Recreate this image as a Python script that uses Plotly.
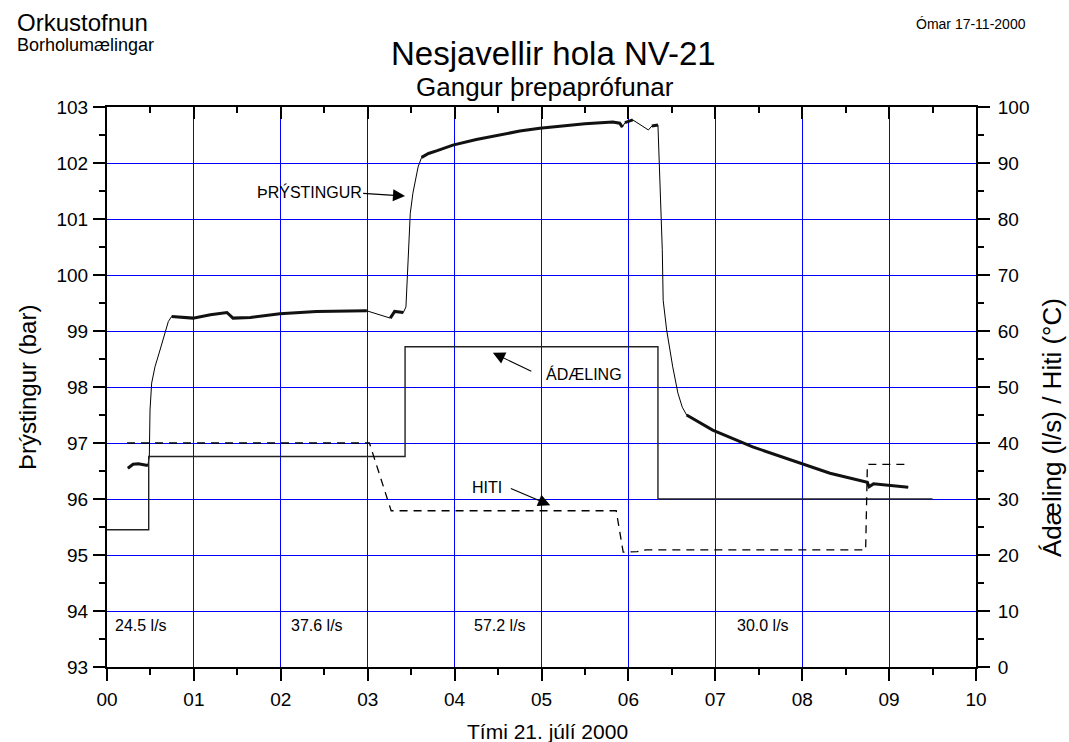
import plotly.graph_objects as go

# --- Measured data, Nesjavellir NV-21 step test, 21 July 2000 (hours after midnight) ---

# Wellhead pressure (bar), left axis
p_hours = [0.24, 0.30, 0.36, 0.42, 0.47,
           0.487, 0.495, 0.514, 0.552, 0.61, 0.667, 0.706, 0.744,
           0.99, 1.19, 1.38, 1.45, 1.65, 1.99, 2.41, 2.99,
           3.26, 3.31, 3.41,
           3.44, 3.49, 3.52, 3.58, 3.62, 3.70, 3.80, 3.98, 4.25, 4.50, 4.75, 4.98,
           5.25, 5.50, 5.82, 5.90, 5.93, 5.96, 6.05,
           6.23, 6.27, 6.34,
           6.37, 6.39, 6.40, 6.44, 6.51, 6.57, 6.62, 6.67,
           6.97, 7.43, 7.97, 8.32, 8.75, 8.77, 8.82, 9.22]
p_bar = [96.55, 96.62, 96.63, 96.62, 96.60,
         96.76, 97.59, 98.07, 98.36, 98.66, 98.96, 99.17, 99.26,
         99.23, 99.29, 99.33, 99.23, 99.24, 99.31, 99.35, 99.36,
         99.23, 99.35, 99.33,
         99.43, 101.10, 101.46, 101.93, 102.10, 102.17, 102.22, 102.32, 102.42, 102.50, 102.57, 102.62,
         102.66, 102.70, 102.73, 102.71, 102.64, 102.72, 102.77,
         102.59, 102.66, 102.68,
         101.34, 100.45, 99.55, 99.02, 98.36, 97.89, 97.64, 97.50,
         97.23, 96.93, 96.64, 96.46, 96.30, 96.22, 96.27, 96.21]

# Injection rate (l/s), right axis
flow_hours = [0.0, 0.48, 3.43, 6.34, 9.5]
flow_ls = [24.5, 37.6, 57.2, 30.0, 30.0]

# Injection temperature (°C), right axis
temp_hours = [0.23, 3.02, 3.27, 5.86, 5.94, 6.10, 6.20, 8.73, 8.75, 9.24]
temp_c = [40.0, 40.0, 27.9, 27.9, 20.5, 20.6, 20.9, 20.9, 36.2, 36.2]

# Rate labels along the bottom of the plot
rate_labels = ["24.5 l/s", "37.6 l/s", "57.2 l/s", "30.0 l/s"]
rate_label_hours = [0.07, 2.1, 4.2, 7.23]
rate_label_level = 93.75

x_tick_vals = list(range(11))
x_tick_text = ["00", "01", "02", "03", "04", "05", "06", "07", "08", "09", "10"]

# Stretches where the logger trace is noisy (drawn as a thicker band)
noisy_windows = [(0.24, 0.47), (0.744, 2.99), (3.26, 3.41), (3.62, 5.93),
                 (5.96, 6.05), (6.27, 6.34), (6.67, 9.22)]

FONT = "Liberation Sans, Arial, Helvetica, sans-serif"
W, H = 1069, 742
L, R, T, B = 107, 93, 107, 75
PW, PH = W - L - R, H - T - B


def px_x(px):
    return (px - L) / PW


def px_y(py):
    return (H - B - py) / PH


fig = go.Figure()

# pressure: thin line through all samples
fig.add_trace(go.Scatter(x=p_hours, y=p_bar, mode="lines",
                         line=dict(color="black", width=1), showlegend=False,
                         hoverinfo="skip"))
# noisy plateaus as a thicker band
for a, b in noisy_windows:
    xs = [h for h in p_hours if a <= h <= b]
    ys = [p for h, p in zip(p_hours, p_bar) if a <= h <= b]
    fig.add_trace(go.Scatter(x=xs, y=ys, mode="lines",
                             line=dict(color="#111111", width=3), showlegend=False,
                             hoverinfo="skip"))

# injection rate step line
fig.add_trace(go.Scatter(x=flow_hours, y=flow_ls, mode="lines", yaxis="y2",
                         line=dict(color="#222222", width=1.4, shape="hv"),
                         showlegend=False, hoverinfo="skip"))

# temperature dashed line
fig.add_trace(go.Scatter(x=temp_hours, y=temp_c, mode="lines", yaxis="y2",
                         line=dict(color="black", width=1.3, dash="8px,6px"),
                         showlegend=False, hoverinfo="skip"))

# empty trace so the top frame axis is drawn
fig.add_trace(go.Scatter(x=[None], y=[None], xaxis="x2", showlegend=False,
                         hoverinfo="skip"))

annotations = []
label_font = dict(family=FONT, size=16, color="black")

# rate labels
for txt, h in zip(rate_labels, rate_label_hours):
    annotations.append(dict(x=h, y=rate_label_level, xref="x", yref="y", text=txt,
                            showarrow=False, xanchor="left", yanchor="middle",
                            font=label_font))

arrow_style = dict(text="", showarrow=True, arrowhead=2, arrowsize=2.2,
                   arrowwidth=1.1, arrowcolor="black")

# curve labels with arrows
annotations += [
    dict(x=2.33, y=101.48, xref="x", yref="y", text="ÞRÝSTINGUR", showarrow=False,
         font=label_font),
    dict(x=3.43, y=101.41, ax=2.93, ay=101.46, xref="x", yref="y", axref="x", ayref="y",
         **arrow_style),
    dict(x=5.49, y=52.3, xref="x", yref="y2", text="ÁDÆLING", showarrow=False,
         font=label_font),
    dict(x=4.44, y=56.1, ax=4.90, ay=52.7, xref="x", yref="y2", axref="x", ayref="y2",
         **arrow_style),
    dict(x=4.37, y=32.1, xref="x", yref="y2", text="HITI", showarrow=False,
         font=label_font),
    dict(x=5.10, y=28.9, ax=4.63, ay=32.0, xref="x", yref="y2", axref="x", ayref="y2",
         **arrow_style),
]

# header texts and axis titles
annotations += [
    dict(x=px_x(15), y=px_y(22), xref="paper", yref="paper", text="Orkustofnun",
         showarrow=False, xanchor="left", yanchor="middle",
         font=dict(family=FONT, size=24, color="black")),
    dict(x=px_x(15), y=px_y(45), xref="paper", yref="paper", text="Borholumælingar",
         showarrow=False, xanchor="left", yanchor="middle",
         font=dict(family=FONT, size=18, color="black")),
    dict(x=px_x(1028), y=px_y(24), xref="paper", yref="paper", text="Ómar 17-11-2000",
         showarrow=False, xanchor="right", yanchor="middle",
         font=dict(family=FONT, size=14, color="black")),
    dict(x=px_x(553), y=px_y(54), xref="paper", yref="paper", text="Nesjavellir hola NV-21",
         showarrow=False, xanchor="center", yanchor="middle",
         font=dict(family=FONT, size=33, color="black")),
    dict(x=px_x(545), y=px_y(87), xref="paper", yref="paper", text="Gangur þrepaprófunar",
         showarrow=False, xanchor="center", yanchor="middle",
         font=dict(family=FONT, size=26, color="black")),
    dict(x=px_x(547), y=px_y(731), xref="paper", yref="paper", text="Tími 21. júlí 2000",
         showarrow=False, xanchor="center", yanchor="middle",
         font=dict(family=FONT, size=21, color="black")),
    dict(x=px_x(27), y=px_y(388), xref="paper", yref="paper", text="Þrýstingur (bar)",
         showarrow=False, textangle=-90, xanchor="center", yanchor="middle",
         font=dict(family=FONT, size=24, color="black")),
    dict(x=px_x(1052), y=px_y(428), xref="paper", yref="paper",
         text="Ádæling (l/s) / Hiti (°C)",
         showarrow=False, textangle=-90, xanchor="center", yanchor="middle",
         font=dict(family=FONT, size=26, color="black")),
]

axis_font = dict(family=FONT, size=19, color="black")
GRID = "#0000ff"

fig.update_layout(
    width=W, height=H, autosize=False,
    margin=dict(l=L, r=R, t=T, b=B, pad=0),
    paper_bgcolor="white", plot_bgcolor="white",
    showlegend=False,
    annotations=annotations,
    xaxis=dict(range=[0, 10], tickmode="array", tickvals=x_tick_vals, ticktext=x_tick_text,
               ticks="outside", ticklen=12, tickwidth=2, tickcolor="black",
               showline=True, linewidth=2, linecolor="black",
               showgrid=True, gridcolor=GRID, gridwidth=1, zeroline=False,
               tickfont=axis_font, ticklabelstandoff=2,
               minor=dict(ticks="outside", ticklen=6, tickwidth=2, tickcolor="black",
                          tick0=0, dtick=0.5, showgrid=False)),
    xaxis2=dict(range=[0, 10], overlaying="x", side="top", tickmode="linear",
                tick0=0, dtick=1, ticks="inside", ticklen=12, tickwidth=2, tickcolor="black",
                showticklabels=False, showline=True, linewidth=2, linecolor="black",
                showgrid=False, zeroline=False,
                minor=dict(ticks="inside", ticklen=6, tickwidth=2, tickcolor="black",
                           tick0=0, dtick=0.5, showgrid=False)),
    yaxis=dict(range=[93, 103], tickmode="linear", tick0=93, dtick=1,
               ticks="outside", ticklen=12, tickwidth=2, tickcolor="black",
               showline=True, linewidth=2, linecolor="black",
               showgrid=True, gridcolor=GRID, gridwidth=1, zeroline=False,
               tickfont=axis_font, ticklabelstandoff=1,
               minor=dict(ticks="outside", ticklen=6, tickwidth=2, tickcolor="black",
                          tick0=93, dtick=0.5, showgrid=False)),
    yaxis2=dict(range=[0, 100], overlaying="y", side="right", tickmode="linear",
                tick0=0, dtick=10, ticks="outside", ticklen=12, tickwidth=2,
                tickcolor="black", showline=True, linewidth=2, linecolor="black",
                showgrid=False, zeroline=False, tickfont=axis_font,
                ticklabelstandoff=4,
                minor=dict(ticks="outside", ticklen=6, tickwidth=2, tickcolor="black",
                           tick0=0, dtick=5, showgrid=False)),
)

fig.write_html("out.html")
